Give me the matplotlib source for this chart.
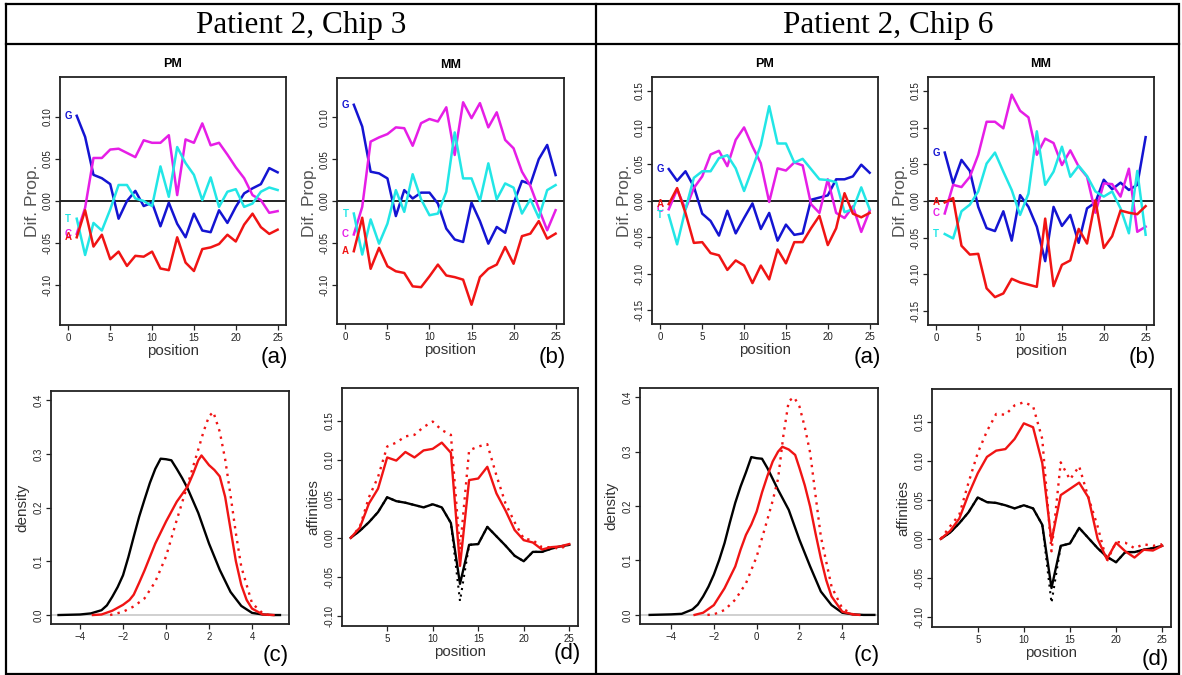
import numpy as np
import matplotlib
matplotlib.use('Agg')
import matplotlib.pyplot as plt

plt.rcParams['font.family'] = ['Liberation Sans', 'DejaVu Sans']

# ---- data: differences in base proportions by position ----
pos = np.arange(1, 26)

c3_pm_G = [0.101, 0.076, 0.031, 0.027, 0.020, -0.021, 0.000, 0.012, -0.006, -0.002, -0.030, -0.002, -0.027,
           -0.043, -0.015, -0.035, -0.037, -0.011, -0.026, -0.007, 0.009, 0.015, 0.020, 0.039, 0.034]
c3_pm_C = [-0.039, -0.008, 0.051, 0.051, 0.061, 0.062, 0.057, 0.052, 0.072, 0.069, 0.069, 0.078, 0.007,
           0.073, 0.069, 0.092, 0.066, 0.069, 0.055, 0.040, 0.027, 0.007, 0.001, -0.014, -0.012]
c3_pm_T = [-0.021, -0.064, -0.026, -0.035, -0.010, 0.019, 0.019, 0.003, 0.000, -0.006, 0.041, 0.005, 0.064,
           0.045, 0.031, 0.001, 0.028, -0.007, 0.011, 0.014, -0.007, -0.003, 0.011, 0.016, 0.013]
c3_pm_A = [-0.043, -0.011, -0.054, -0.040, -0.069, -0.060, -0.077, -0.065, -0.066, -0.060, -0.080, -0.082,
           -0.043, -0.073, -0.083, -0.057, -0.055, -0.051, -0.040, -0.048, -0.028, -0.015, -0.031, -0.039, -0.034]

c3_mm_G = [0.115, 0.089, 0.035, 0.033, 0.027, -0.018, 0.013, 0.003, 0.010, 0.010, -0.003, -0.033, -0.046,
           -0.049, -0.002, -0.024, -0.051, -0.031, -0.038, -0.003, 0.024, 0.020, 0.050, 0.067, 0.031]
c3_mm_C = [-0.040, -0.007, 0.071, 0.076, 0.080, 0.088, 0.087, 0.066, 0.093, 0.098, 0.095, 0.112, 0.055,
           0.118, 0.099, 0.117, 0.088, 0.106, 0.073, 0.063, 0.035, 0.018, -0.009, -0.035, -0.011]
c3_mm_T = [-0.015, -0.064, -0.022, -0.051, -0.027, 0.013, -0.013, 0.032, 0.002, -0.017, -0.015, 0.011, 0.082,
           0.027, 0.027, 0.000, 0.045, 0.002, 0.021, 0.016, -0.015, 0.002, -0.020, 0.013, 0.019]
c3_mm_A = [-0.060, -0.020, -0.081, -0.056, -0.078, -0.084, -0.086, -0.102, -0.103, -0.090, -0.076, -0.089,
           -0.091, -0.094, -0.124, -0.091, -0.081, -0.076, -0.055, -0.075, -0.042, -0.039, -0.024, -0.045, -0.039]

c6_pm_G = [0.043, 0.027, 0.040, 0.019, -0.018, -0.028, -0.048, -0.014, -0.045, -0.024, -0.004, -0.039, -0.017,
           -0.055, -0.033, -0.047, -0.045, 0.001, 0.004, 0.007, 0.029, 0.029, 0.033, 0.049, 0.038]
c6_pm_C = [-0.012, 0.015, -0.012, 0.017, 0.033, 0.063, 0.068, 0.047, 0.083, 0.100, 0.074, 0.051, -0.002,
           0.044, 0.041, 0.052, 0.048, -0.005, -0.017, 0.029, -0.017, -0.024, -0.008, -0.043, -0.014]
c6_pm_T = [-0.020, -0.060, -0.012, 0.031, 0.040, 0.040, 0.058, 0.062, 0.044, 0.013, 0.044, 0.076, 0.129,
           0.078, 0.078, 0.052, 0.057, 0.043, 0.029, 0.028, 0.025, -0.016, -0.012, 0.018, -0.012]
c6_pm_A = [-0.005, 0.017, -0.017, -0.058, -0.057, -0.072, -0.075, -0.095, -0.082, -0.089, -0.113, -0.089,
           -0.108, -0.067, -0.086, -0.057, -0.057, -0.038, -0.021, -0.061, -0.038, 0.010, -0.018, -0.023, -0.017]

c6_mm_G = [0.066, 0.024, 0.056, 0.041, -0.008, -0.037, -0.041, -0.014, -0.054, 0.008, -0.008, -0.035, -0.082,
           -0.008, -0.034, -0.019, -0.057, -0.010, -0.002, 0.029, 0.016, 0.025, 0.015, 0.022, 0.087]
c6_mm_C = [-0.017, 0.022, 0.019, 0.033, 0.063, 0.108, 0.108, 0.099, 0.145, 0.123, 0.114, 0.063, 0.085,
           0.079, 0.049, 0.069, 0.047, 0.033, -0.016, 0.024, 0.023, 0.006, 0.044, -0.042, -0.035]
c6_mm_T = [-0.045, -0.051, -0.014, -0.005, 0.013, 0.051, 0.066, 0.040, 0.015, -0.019, 0.010, 0.095, 0.022,
           0.040, 0.074, 0.033, 0.048, 0.034, 0.013, 0.006, 0.013, -0.010, -0.044, 0.041, -0.046]
c6_mm_A = [-0.002, 0.004, -0.061, -0.073, -0.072, -0.119, -0.131, -0.126, -0.106, -0.111, -0.114, -0.117,
           -0.024, -0.116, -0.087, -0.081, -0.038, -0.058, 0.001, -0.064, -0.048, -0.013, -0.016, -0.018, -0.007]

# ---- data: densities ----
c3_dens_bx = [-5.0, -4.0, -3.5, -3.0, -2.75, -2.5, -2.25, -2.0, -1.75, -1.5, -1.25, -1.0, -0.75, -0.5, -0.25,
              0.0, 0.25, 0.5, 0.75, 1.0, 1.5, 2.0, 2.5, 3.0, 3.5, 4.0, 4.5, 5.0, 5.3]
c3_dens_by = [0.0, 0.001, 0.003, 0.009, 0.018, 0.034, 0.052, 0.074, 0.108, 0.146, 0.183, 0.215, 0.246, 0.272,
              0.291, 0.290, 0.288, 0.272, 0.255, 0.236, 0.190, 0.133, 0.084, 0.043, 0.017, 0.004, 0.001, 0.0, 0.0]
c3_dens_rx = [-3.4, -3.0, -2.5, -2.0, -1.7, -1.5, -1.25, -1.0, -0.5, 0.0, 0.5, 1.0, 1.25, 1.5, 1.65, 2.0, 2.25,
              2.5, 2.75, 3.0, 3.25, 3.5, 3.75, 4.0, 4.5, 5.0]
c3_dens_ry = [0.0, 0.001, 0.008, 0.019, 0.028, 0.038, 0.060, 0.083, 0.133, 0.174, 0.211, 0.239, 0.262, 0.288,
              0.297, 0.279, 0.270, 0.258, 0.220, 0.160, 0.100, 0.056, 0.028, 0.012, 0.001, 0.0]
c3_dens_dx = [-2.6, -2.0, -1.5, -1.0, -0.5, 0.0, 0.5, 1.0, 1.5, 1.75, 2.0, 2.2, 2.5, 2.75, 3.0, 3.25, 3.5, 4.0,
              4.5, 4.8]
c3_dens_dy = [0.0, 0.006, 0.016, 0.031, 0.062, 0.109, 0.177, 0.242, 0.308, 0.342, 0.370, 0.378, 0.341, 0.290,
              0.223, 0.152, 0.090, 0.022, 0.003, 0.0]

c6_dens_bx = [-5.0, -4.0, -3.5, -3.0, -2.75, -2.5, -2.25, -2.0, -1.75, -1.5, -1.25, -1.0, -0.75, -0.5, -0.25,
              0.0, 0.25, 0.5, 0.75, 1.0, 1.5, 2.0, 2.5, 3.0, 3.5, 4.0, 4.5, 5.0, 5.5]
c6_dens_by = [0.0, 0.001, 0.002, 0.010, 0.019, 0.034, 0.052, 0.074, 0.101, 0.132, 0.170, 0.206, 0.236, 0.262,
              0.290, 0.288, 0.287, 0.270, 0.250, 0.230, 0.193, 0.138, 0.089, 0.043, 0.018, 0.004, 0.001, 0.0, 0.0]
c6_dens_rx = [-2.9, -2.5, -2.0, -1.5, -1.0, -0.75, -0.5, -0.25, 0.0, 0.25, 0.5, 0.75, 1.0, 1.2, 1.5, 1.8, 2.0,
              2.25, 2.5, 2.75, 3.0, 3.25, 3.5, 4.0, 4.5, 4.8]
c6_dens_ry = [0.0, 0.004, 0.018, 0.049, 0.089, 0.120, 0.147, 0.166, 0.190, 0.225, 0.255, 0.282, 0.300, 0.309,
              0.304, 0.294, 0.270, 0.238, 0.199, 0.150, 0.104, 0.064, 0.034, 0.006, 0.001, 0.0]
c6_dens_dx = [-2.3, -2.0, -1.5, -1.0, -0.5, 0.0, 0.5, 0.75, 1.0, 1.25, 1.5, 1.75, 2.0, 2.25, 2.5, 2.75, 3.0, 3.5,
              4.0, 4.5, 4.8]
c6_dens_dy = [0.0, 0.001, 0.009, 0.028, 0.058, 0.107, 0.175, 0.210, 0.250, 0.330, 0.393, 0.400, 0.383, 0.345,
              0.298, 0.220, 0.144, 0.052, 0.012, 0.001, 0.0]

# ---- data: affinities by position ----
c3_aff_k = [0.000, 0.009, 0.020, 0.033, 0.052, 0.047, 0.045, 0.042, 0.039, 0.043, 0.039, 0.019, -0.059,
            -0.009, -0.008, 0.014, 0.002, -0.010, -0.023, -0.030, -0.018, -0.018, -0.014, -0.011, -0.009]
c3_aff_kd = [0.000, 0.009, 0.020, 0.033, 0.052, 0.047, 0.045, 0.042, 0.039, 0.043, 0.039, 0.019, -0.081,
             -0.009, -0.008, 0.014, 0.002, -0.010, -0.023, -0.030, -0.018, -0.018, -0.014, -0.011, -0.009]
c3_aff_r = [0.000, 0.013, 0.044, 0.063, 0.103, 0.099, 0.110, 0.103, 0.112, 0.114, 0.122, 0.109, -0.036,
            0.074, 0.076, 0.091, 0.057, 0.035, 0.010, -0.003, -0.006, -0.015, -0.012, -0.011, -0.008]
c3_aff_rd = [0.000, 0.014, 0.052, 0.078, 0.117, 0.122, 0.130, 0.132, 0.142, 0.149, 0.138, 0.132, -0.015,
             0.112, 0.117, 0.120, 0.080, 0.044, 0.020, -0.001, -0.003, -0.012, -0.012, -0.014, -0.008]

c6_aff_k = [0.000, 0.008, 0.020, 0.034, 0.053, 0.047, 0.046, 0.043, 0.039, 0.043, 0.039, 0.018, -0.063,
            -0.009, -0.006, 0.014, 0.001, -0.012, -0.023, -0.030, -0.017, -0.017, -0.014, -0.012, -0.009]
c6_aff_kd = [0.000, 0.008, 0.020, 0.034, 0.053, 0.047, 0.046, 0.043, 0.039, 0.043, 0.039, 0.018, -0.082,
             -0.009, -0.006, 0.014, 0.001, -0.012, -0.023, -0.030, -0.017, -0.017, -0.014, -0.012, -0.009]
c6_aff_r = [0.000, 0.010, 0.026, 0.057, 0.084, 0.105, 0.113, 0.115, 0.128, 0.148, 0.143, 0.097, -0.003,
            0.056, 0.064, 0.072, 0.053, 0.000, -0.026, -0.005, -0.016, -0.024, -0.014, -0.015, -0.009]
c6_aff_rd = [0.000, 0.016, 0.031, 0.072, 0.110, 0.138, 0.160, 0.159, 0.171, 0.175, 0.170, 0.128, -0.016,
             0.098, 0.076, 0.093, 0.053, 0.016, -0.029, -0.004, -0.005, -0.012, -0.007, -0.009, -0.007]

headers = ['Patient 2, Chip 3', 'Patient 2, Chip 6']

BLUE, MAG, CYAN, RED = '#1414d2', '#e61ee6', '#22e6e6', '#f01414'
W, H = 1182, 675

fig = plt.figure(figsize=(W / 100, H / 100), dpi=100)


def box(x0, y0, x1, y1):
    return [x0 / W, 1 - y1 / H, (x1 - x0) / W, (y1 - y0) / H]


def style(ax, yfmt):
    for s in ax.spines.values():
        s.set_linewidth(1.3)
        s.set_color('#222222')
    ax.tick_params(direction='out', length=3.5, width=0.9, labelsize=7, colors='#222222', pad=2)
    ax.set_yticklabels([yfmt % v for v in ax.get_yticks()], rotation=90, va='center')


def dif_panel(rect, title, G, C, T, A, lim, yticks):
    ax = fig.add_axes(box(*rect))
    ax.axhline(0, color='#222222', lw=1.4)
    for vals, col, letter in [(G, BLUE, 'G'), (C, MAG, 'C'), (T, CYAN, 'T'), (A, RED, 'A')]:
        ax.plot(pos, vals, color=col, lw=1.8)
        ax.text(0, vals[0], letter, color=col, fontsize=7, fontweight='bold', ha='center', va='center')
    ax.set_xlim(-1, 26)
    ax.set_ylim(-lim, lim)
    ax.set_xticks([0, 5, 10, 15, 20, 25])
    ax.set_yticks(yticks)
    style(ax, '%.2f')
    ax.set_title(title, fontsize=9, fontweight='bold', pad=7)
    ax.set_xlabel('position', fontsize=10.8, color='#333333', labelpad=1)
    ax.set_ylabel('Dif. Prop.', fontsize=12.5, color='#555555', labelpad=2)


def dens_panel(rect, bx, by, rx, ry, dx, dy, xlim):
    ax = fig.add_axes(box(*rect))
    ax.axhline(0, color='#c8c8c8', lw=1.2)
    ax.plot(bx, by, color='black', lw=1.7)
    ax.plot(rx, ry, color=RED, lw=1.7)
    ax.plot(dx, dy, color=RED, lw=1.7, ls=(0, (1, 2.2)))
    ax.set_xlim(*xlim)
    ax.set_ylim(-0.0167, 0.417)
    ax.set_xticks([-4, -2, 0, 2, 4])
    ax.set_yticks([0.0, 0.1, 0.2, 0.3, 0.4])
    style(ax, '%.1f')
    ax.set_ylabel('density', fontsize=11, color='#333333', labelpad=3)


def aff_panel(rect, k, kd, r, rd):
    ax = fig.add_axes(box(*rect))
    ax.plot(pos, kd, color='black', lw=1.5, ls=(0, (1, 2.2)))
    ax.plot(pos, k, color='black', lw=1.7)
    ax.plot(pos, rd, color=RED, lw=1.7, ls=(0, (1, 2.2)))
    ax.plot(pos, r, color=RED, lw=1.7)
    ax.set_xlim(0.04, 25.96)
    ax.set_ylim(-0.113, 0.192)
    ax.set_xticks([5, 10, 15, 20, 25])
    ax.set_yticks([-0.10, -0.05, 0.0, 0.05, 0.10, 0.15])
    style(ax, '%.2f')
    ax.set_xlabel('position', fontsize=10.8, color='#333333', labelpad=1)
    ax.set_ylabel('affinities', fontsize=11, color='#333333', labelpad=3)


dif_panel((60, 77, 286, 325), 'PM', c3_pm_G, c3_pm_C, c3_pm_T, c3_pm_A, 0.147,
          [-0.10, -0.05, 0.0, 0.05, 0.10])
dif_panel((337, 78, 564, 324), 'MM', c3_mm_G, c3_mm_C, c3_mm_T, c3_mm_A, 0.147,
          [-0.10, -0.05, 0.0, 0.05, 0.10])
dif_panel((652, 77, 878, 324), 'PM', c6_pm_G, c6_pm_C, c6_pm_T, c6_pm_A, 0.169,
          [-0.15, -0.10, -0.05, 0.0, 0.05, 0.10, 0.15])
dif_panel((928, 77, 1154, 325), 'MM', c6_mm_G, c6_mm_C, c6_mm_T, c6_mm_A, 0.169,
          [-0.15, -0.10, -0.05, 0.0, 0.05, 0.10, 0.15])

dens_panel((51, 391, 289, 624), c3_dens_bx, c3_dens_by, c3_dens_rx, c3_dens_ry, c3_dens_dx, c3_dens_dy,
           (-5.35, 5.72))
dens_panel((640, 388, 878, 624), c6_dens_bx, c6_dens_by, c6_dens_rx, c6_dens_ry, c6_dens_dx, c6_dens_dy,
           (-5.45, 5.67))
aff_panel((342, 388, 578, 626), c3_aff_k, c3_aff_kd, c3_aff_r, c3_aff_rd)
aff_panel((932, 389, 1171, 627), c6_aff_k, c6_aff_kd, c6_aff_r, c6_aff_rd)

# table frame, headers and panel tags drawn on a full-figure overlay
frame = fig.add_axes([0, 0, 1, 1], zorder=10)
frame.set_xlim(0, W)
frame.set_ylim(H, 0)
frame.axis('off')
frame.patch.set_alpha(0)
lw = 1.6
frame.plot([6, 1179, 1179, 6, 6], [4, 4, 674, 674, 4], color='black', lw=lw, solid_joinstyle='miter')
frame.plot([6, 1179], [44, 44], color='black', lw=lw)
frame.plot([596, 596], [4, 674], color='black', lw=lw)
frame.text(301, 25, headers[0], family='Liberation Serif', fontsize=22.5, ha='center', va='center')
frame.text(888, 25, headers[1], family='Liberation Serif', fontsize=22.5, ha='center', va='center')

tags = [('(a)', 274, 357), ('(b)', 552, 357), ('(a)', 867, 357), ('(b)', 1142, 357),
        ('(c)', 276, 655), ('(d)', 567, 653), ('(c)', 867, 655), ('(d)', 1155, 659)]
for t, x, y in tags:
    frame.text(x, y, t, fontsize=16, ha='center', va='center')

fig.savefig('out.png', dpi=100)
